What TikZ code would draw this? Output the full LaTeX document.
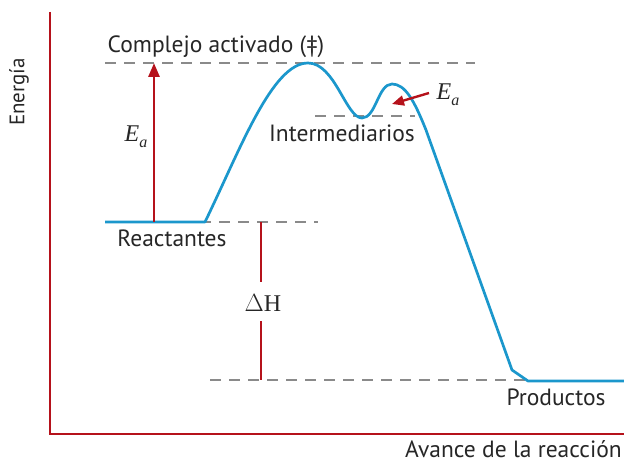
\documentclass[tikz,border=0pt]{standalone}
\usepackage{fontspec}
\setmainfont{PT Sans}
\newfontfamily\serifit{Liberation Serif}
\usetikzlibrary{arrows.meta}
\definecolor{axred}{HTML}{B5121B}
\definecolor{curveblue}{HTML}{1B97CC}
\definecolor{dashgray}{HTML}{8A8A8A}
\tikzset{
  axis/.style={draw=axred, line width=2.8pt},
  level/.style={draw=dashgray, line width=2.9pt, dash pattern=on 11pt off 8pt},
  curve/.style={draw=curveblue, line width=2.7pt, line join=round},
  redline/.style={draw=axred, line width=2.8pt},
  lbl/.style={font=\fontsize{23.5}{26}\selectfont, inner sep=0pt, text=black!85},
  ealbl/.style={font=\serifit\fontsize{24}{27}\selectfont, inner sep=0pt, text=black!85}
}
\begin{document}
\begin{tikzpicture}[x=1pt,y=-1pt]
\useasboundingbox (0,0) rectangle (624,465);
% axes
\coordinate (ytop) at (50,12);
\coordinate (orig) at (50,434);
\coordinate (xend) at (624,434);
\draw[axis] (ytop) -- (orig) -- (xend);
\node[lbl, rotate=90, font=\fontsize{21}{24}\selectfont] (energia) at (19,92) {Energía};
\node[lbl, anchor=base east] (avance) at (622,457) {Avance de la reacción};
% level lines
\coordinate (ts1) at (105,63); \coordinate (ts2) at (475,63);
\coordinate (im1) at (315,116); \coordinate (im2) at (415,116);
\coordinate (re1) at (105,222); \coordinate (re2) at (318,222);
\coordinate (pr1) at (210,380); \coordinate (pr2) at (525,380);
\draw[level] (ts1) -- (ts2);
\draw[level] (im1) -- (im2);
\draw[level] (re1) -- (re2);
\draw[level] (pr1) -- (pr2);
% curve
\coordinate (c0) at (105,222);
\coordinate (c1) at (205,222);
\coordinate (peak) at (308,63);
\coordinate (trough) at (362,118);
\coordinate (peak2) at (392,84);
\coordinate (c5) at (426,130);
\coordinate (c6) at (512,370);
\coordinate (c7) at (528,381);
\coordinate (c8) at (624,381);
\draw[curve] (c0) -- (c1) .. controls (240,150) and (272,63) .. (peak)
  .. controls (335,63) and (346,118) .. (trough)
  .. controls (376,118) and (378,84) .. (peak2)
  .. controls (405,84) and (414,100) .. (c5) -- (c6) -- (c7) -- (c8);
% Ea arrow
\coordinate (eab) at (154,222);
\coordinate (eat) at (154,63);
\draw[redline, -{Triangle[length=14pt,width=11pt]}] (eab) -- (eat);
\node[ealbl] (ea1) at (136,137) {\itshape E\raisebox{-6pt}{\fontsize{16}{18}\selectfont a}};
% small Ea arrow
\coordinate (sa1) at (429,93);
\coordinate (sa2) at (392,104);
\draw[redline, line width=2.4pt, -{Triangle[length=12pt,width=10pt]}] (sa1) -- (sa2);
\node[ealbl] (ea2) at (448,95) {\itshape E\raisebox{-6pt}{\fontsize{16}{18}\selectfont a}};
% Delta H
\coordinate (dh1) at (261,222);
\coordinate (dh2) at (261,282);
\coordinate (dh3) at (261,321);
\coordinate (dh4) at (261,380);
\draw[redline] (dh1) -- (dh2);
\draw[redline] (dh3) -- (dh4);
\node[ealbl] (dh) at (263,303) {$\Delta$H};
% labels
\node[lbl] (complejo) at (216,47) {Complejo activado (‡)};
\node[lbl] (interm) at (342,133) {Intermediarios};
\node[lbl] (react) at (172,238) {Reactantes};
\node[lbl] (prod) at (556,397) {Productos};
\end{tikzpicture}
\end{document}
